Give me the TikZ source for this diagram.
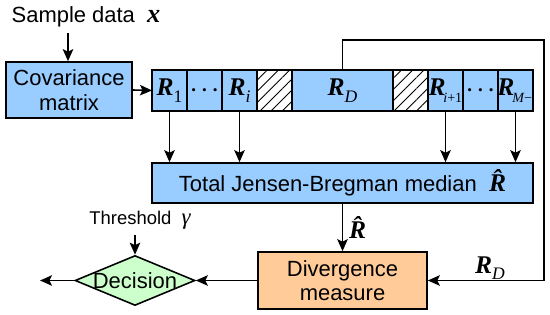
\documentclass[tikz,border=0pt]{standalone}
\usepackage{fontspec}
\usepackage{bm}
\usepackage{tikz}
\usepackage{xcolor}
\setmainfont{Liberation Sans}
\newfontfamily\tms{Liberation Serif}
\usetikzlibrary{shapes.geometric, arrows.meta, positioning, calc, patterns.meta}
\definecolor{cBlue}{RGB}{153,204,255}
\definecolor{cOrange}{RGB}{255,204,153}
\definecolor{cGreen}{RGB}{204,255,204}
\newcommand{\vR}[1]{{\fontsize{14.5}{15}\tms\bfseries\itshape R}\raisebox{-0.55ex}{\fontsize{10}{11}\tms #1}}
\newcommand{\vRs}[1]{{\fontsize{14.5}{15}\tms\bfseries\itshape R}\kern-1.2pt\raisebox{-0.55ex}{\fontsize{8}{9}\tms #1}}
\newcommand{\hR}{{\fontsize{14.5}{15}\tms\bfseries\itshape \^{R}}}
\newcommand{\bdots}{\makebox[0pt]{\fontsize{12}{12}\selectfont$\bm{\cdots}$}}
\tikzset{
    block/.style    ={rectangle, draw=black, line width=0.9pt, fill=cBlue, align=center, inner sep=2pt},
    cell/.style     ={rectangle, draw=black, line width=0.9pt, fill=cBlue, minimum width=0.7cm, minimum height=0.82cm, inner sep=0pt, outer sep=0pt},
    hatched/.style  ={cell, fill=white, postaction={pattern={Lines[angle=45, distance=4.5pt, line width=0.5pt]}}},
    measure/.style  ={block, fill=cOrange},
    decision/.style ={diamond, draw=black, line width=0.9pt, fill=cGreen, minimum width=2.4cm, minimum height=1cm, inner sep=0pt},
    flowarrow/.style={-{Stealth[length=2.4mm, width=2.1mm, inset=0.5mm]}, line width=0.9pt},
}
\begin{document}
\begin{tikzpicture}[every node/.style={font=\fontsize{12.5}{14}\selectfont}]
    \useasboundingbox (0,0) rectangle (11,6.3);
    \node (sample) at (1.72,5.96) {Sample data\ \ {\fontsize{15}{15}\tms\bfseries\itshape x}};
    \node[block, minimum width=2.52cm, minimum height=1.12cm] (cov) at (1.38,4.5) {Covariance\\matrix};
    % strip of covariance matrices
    \node[cell] (r1) at (3.39,4.49) {\vR{1}};
    \node[cell, right=0pt of r1] (dotsA) {\bdots};
    \node[cell, right=0pt of dotsA] (ri) {\vR{\itshape i}};
    \node[hatched, right=0pt of ri] (hA) {};
    \node[cell, right=0pt of hA, minimum width=2.02cm] (rd) {\vR{\itshape D}};
    \node[hatched, right=0pt of rd] (hB) {};
    \node[cell, right=0pt of hB] (rip) {\makebox[0.68cm][l]{\vRs{{\itshape i}+1}}};
    \node[cell, right=0pt of rip] (dotsB) {\bdots};
    \node[cell, right=0pt of dotsB] (rm) {};
    \begin{scope}
        \clip (rm.south west) rectangle (rm.north east);
        \node[anchor=west, inner sep=0pt] (rmlab) at ([xshift=-0.5pt]rm.west) {\vRs{{\itshape M}−1}};
    \end{scope}
    \node[block, minimum width=7.62cm, minimum height=0.8cm] (tot) at (6.85,2.64) {Total Jensen-Bregman median\ \ \hR};
    \node[measure, minimum width=3.38cm, minimum height=1.14cm] (div) at (6.85,0.69) {Divergence\\measure};
    \node[decision, label={center:Decision}] (dec) at (2.7,0.69) {};
    \node[font=\fontsize{10.5}{12}\selectfont] (thr) at (2.8,1.9) {Threshold\ \ {\fontsize{13}{13}\tms\itshape γ}};
    \coordinate (top) at (10.88,5.5);
    \coordinate (out) at (0.8,0.69);
    \draw[flowarrow] (sample.south -| 1.36,0) -- (cov.north -| 1.36,0);
    \draw[flowarrow] (cov.east) -- (r1.west);
    \foreach \c in {r1, ri, rip, rm}
        \draw[flowarrow] (\c.south) -- (\c.south |- tot.north);
    \draw[flowarrow] (tot.south) -- node[right] {\hR} (div.north);
    \draw[flowarrow] (rd.north) |- (top) |- (div.east);
    \node at (9.8,0.94) {\vR{\itshape D}};
    \draw[flowarrow] (div.west) -- (dec.east);
    \draw[flowarrow] (thr.south -| dec.north) -- (dec.north);
    \draw[flowarrow] (dec.west) -- (out);
\end{tikzpicture}
\end{document}
